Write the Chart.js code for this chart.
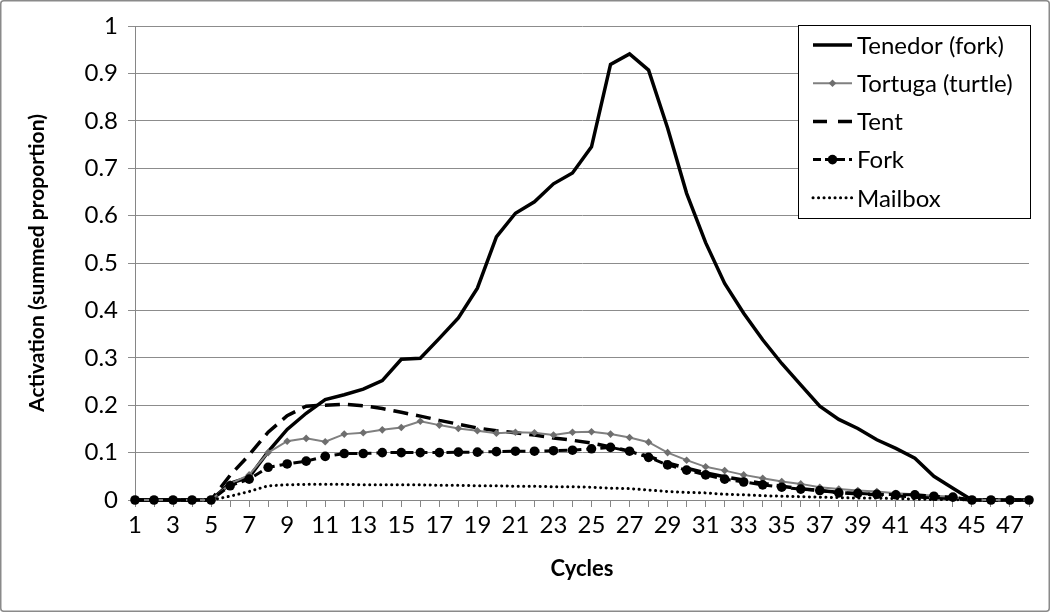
<!DOCTYPE html>
<html>
<head>
<meta charset="utf-8">
<script src="https://cdn.jsdelivr.net/npm/chart.js@4/dist/chart.umd.min.js"></script>
<style>
  html, body { margin: 0; padding: 0; background: #fff; }
  #wrap { width: 1050px; height: 612px; }
</style>
</head>
<body>
<div id="wrap"><canvas id="c" width="1050" height="612"></canvas></div>
<script>
const cycles = ['1','2','3','4','5','6','7','8','9','10','11','12','13','14','15','16','17','18','19','20','21','22','23','24','25','26','27','28','29','30','31','32','33','34','35','36','37','38','39','40','41','42','43','44','45','46','47','48'];
const yTickLabels = ['0','0.1','0.2','0.3','0.4','0.5','0.6','0.7','0.8','0.9','1'];
const seriesNames = ['Tenedor (fork)','Tortuga (turtle)','Tent','Fork','Mailbox'];

const tenedor = [0,0,0,0,0, 0.035,0.048,0.102,0.149,0.183, 0.212,0.222,0.234,0.252,0.297, 0.299,0.341,0.384,0.447,0.555, 0.605,0.629,0.667,0.690,0.745, 0.919,0.941,0.907,0.785,0.647, 0.543,0.457,0.394,0.338,0.288, 0.243,0.198,0.170,0.151,0.127, 0.109,0.088,0.050,0.025,0, 0,0,0];
const tortuga = [0,0,0,0,0, 0.034,0.053,0.100,0.124,0.130, 0.123,0.139,0.142,0.148,0.153, 0.166,0.158,0.151,0.146,0.141, 0.143,0.142,0.137,0.143,0.144, 0.139,0.132,0.122,0.100,0.084, 0.070,0.062,0.053,0.046,0.039, 0.034,0.027,0.023,0.020,0.018, 0.014,0.012,0.009,0.007,0, 0,0,0];
const tent = [0,0,0,0,0, 0.052,0.095,0.143,0.178,0.198, 0.200,0.202,0.199,0.193,0.185, 0.177,0.168,0.160,0.152,0.146, 0.142,0.137,0.131,0.126,0.120, 0.112,0.103,0.092,0.078,0.067, 0.057,0.049,0.042,0.035,0.029, 0.024,0.020,0.016,0.013,0.011, 0.009,0.007,0.005,0.003,0, 0,0,0];
const fork = [0,0,0,0,0, 0.030,0.044,0.069,0.076,0.082, 0.092,0.098,0.098,0.100,0.100, 0.100,0.100,0.101,0.101,0.102, 0.103,0.103,0.104,0.105,0.108, 0.111,0.103,0.090,0.074,0.063, 0.053,0.044,0.038,0.032,0.027, 0.023,0.020,0.015,0.014,0.012, 0.011,0.011,0.008,0.006,0, 0,0,0];
const mailbox = [0,0,0,0,0, 0.008,0.018,0.030,0.032,0.033, 0.033,0.033,0.032,0.032,0.032, 0.032,0.031,0.031,0.030,0.030, 0.029,0.029,0.028,0.028,0.027, 0.025,0.024,0.021,0.018,0.016, 0.015,0.012,0.011,0.009,0.008, 0.007,0.006,0.005,0.004,0.004, 0.003,0.002,0.001,0.001,0, 0,0,0];

const FONT = 'Lato, "Open Sans", sans-serif';

const frame = {
  id: 'frame',
  beforeDraw(chart) {
    const ctx = chart.ctx;
    ctx.save();
    ctx.fillStyle = '#fff';
    ctx.fillRect(0, 0, chart.width, chart.height);
    ctx.strokeStyle = '#8a8a8a';
    ctx.lineWidth = 1.5;
    ctx.beginPath();
    ctx.roundRect(0.75, 0.75, chart.width - 1.5, chart.height - 1.5, 3);
    ctx.stroke();
    ctx.restore();
  }
};

function drawMarker(ctx, style, x, y, r, color) {
  ctx.save();
  ctx.setLineDash([]);
  ctx.fillStyle = color;
  ctx.beginPath();
  if (style === 'circle') {
    ctx.arc(x, y, r, 0, Math.PI * 2);
  } else if (style === 'rectRot') {
    ctx.moveTo(x, y - r); ctx.lineTo(x + r, y); ctx.lineTo(x, y + r); ctx.lineTo(x - r, y); ctx.closePath();
  }
  ctx.fill();
  ctx.restore();
}

const boxLegend = {
  id: 'boxLegend',
  afterDraw(chart) {
    const ctx = chart.ctx;
    const bx = 798, by = 25, bw = 232, bh = 193;
    ctx.save();
    ctx.fillStyle = '#fff';
    ctx.fillRect(bx, by, bw, bh);
    ctx.strokeStyle = '#000';
    ctx.lineWidth = 1;
    ctx.strokeRect(bx + 0.5, by + 0.5, bw, bh);
    chart.data.datasets.forEach((ds, i) => {
      const y = 45 + i * 38.2;
      ctx.save();
      ctx.strokeStyle = ds.borderColor;
      ctx.lineWidth = ds.borderWidth;
      ctx.lineCap = ds.borderCapStyle || 'butt';
      ctx.setLineDash(ds.legendDash || ds.borderDash || []);
      ctx.beginPath();
      ctx.moveTo(813, y);
      ctx.lineTo(852, y);
      ctx.stroke();
      ctx.restore();
      if (ds.pointRadius > 0) drawMarker(ctx, ds.pointStyle, 832.5, y, ds.pointRadius, ds.pointBackgroundColor);
      ctx.fillStyle = '#000';
      ctx.font = '24px ' + FONT;
      ctx.textBaseline = 'middle';
      ctx.textAlign = 'left';
      ctx.fillText(ds.label, 857, y + 1);
    });
    ctx.restore();
  }
};

new Chart(document.getElementById('c'), {
  type: 'line',
  data: {
    labels: cycles,
    datasets: [
      { label: seriesNames[0], data: tenedor, borderColor: '#000', borderWidth: 3.5, pointRadius: 0, tension: 0, clip: false, order: 3 },
      { label: seriesNames[1], data: tortuga, borderColor: '#808080', borderWidth: 2, pointRadius: 3.8, pointStyle: 'rectRot', pointBackgroundColor: '#6e6e6e', pointBorderWidth: 0, pointBorderColor: '#6e6e6e', tension: 0, clip: false, order: 2 },
      { label: seriesNames[2], data: tent, borderColor: '#000', borderWidth: 3.5, borderDash: [15, 8], legendDash: [14, 11], pointRadius: 0, tension: 0, clip: false, order: 4 },
      { label: seriesNames[3], data: fork, borderColor: '#000', borderWidth: 3, borderDash: [9, 5], legendDash: [8, 4], pointRadius: 4.8, pointStyle: 'circle', pointBackgroundColor: '#000', pointBorderColor: '#000', pointBorderWidth: 0, tension: 0, clip: false, order: 0 },
      { label: seriesNames[4], data: mailbox, borderColor: '#000', borderWidth: 3, borderDash: [0.1, 5.4], borderCapStyle: 'round', pointRadius: 0, tension: 0, clip: false, order: 5 }
    ]
  },
  options: {
    responsive: false,
    animation: false,
    devicePixelRatio: 1,
    layout: { padding: { left: 0, right: 21, top: 26, bottom: 0 } },
    plugins: { legend: { display: false }, tooltip: { enabled: false } },
    scales: {
      x: {
        type: 'category',
        offset: false,
        grid: { display: true, drawOnChartArea: false, drawTicks: true, tickLength: 7, color: '#868686', lineWidth: 1 },
        border: { display: true, color: '#868686', width: 1 },
        ticks: {
          autoSkip: false, maxRotation: 0, minRotation: 0, padding: 4,
          color: '#000', font: { family: FONT, size: 24 },
          callback: (v, i) => (i % 2 === 0 ? cycles[i] : '')
        },
        title: { display: true, text: 'Cycles', color: '#000', font: { family: FONT, size: 22, weight: 'bold' }, padding: { top: 0, bottom: 30 } },
        afterFit: (s) => { s.height = 112; }
      },
      y: {
        min: 0, max: 1,
        grid: { color: '#8c8c8c', lineWidth: 1, tickLength: 7, drawTicks: true },
        border: { display: true, color: '#868686', width: 1 },
        ticks: {
          stepSize: 0.1, padding: 10, color: '#000', font: { family: FONT, size: 24 },
          callback: (v, i) => yTickLabels[i]
        },
        title: { display: true, text: 'Activation (summed proportion)', color: '#000', font: { family: FONT, size: 21, weight: 'bold' }, padding: { top: 25, bottom: 0 } },
        afterFit: (s) => { s.width = 135; }
      }
    }
  },
  plugins: [frame, boxLegend]
});
</script>
</body>
</html>
